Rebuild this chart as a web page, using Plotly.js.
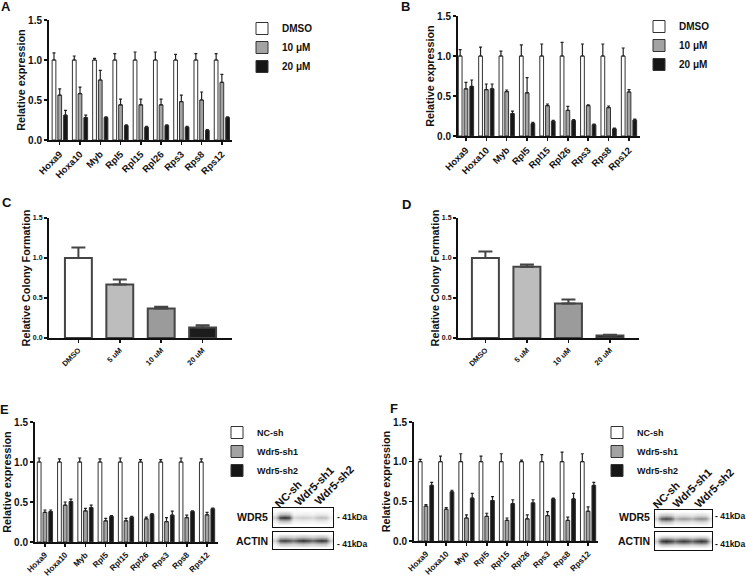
<!DOCTYPE html>
<html><head><meta charset="utf-8">
<script src="https://cdn.plot.ly/plotly-3.0.1.min.js"></script>
<style>html,body{margin:0;padding:0;background:#fff}#chart{width:746px;height:578px}</style>
</head><body><div id="chart"></div>
<script>
// ---------- data ----------
const genes = ['Hoxa9','Hoxa10','Myb','Rpl5','Rpl15','Rpl26','Rps3','Rps8','Rps12'];
const drugGroups = ['DMSO','10 μM','20 μM'];
const shGroups = ['NC-sh','Wdr5-sh1','Wdr5-sh2'];
const colonyCats = ['DMSO','5 uM','10 uM','20 uM'];
const yTicks = [0, 0.5, 1.0, 1.5];

// Panel A
const A_dmso = [1,1,1,1,1,1,1,1,1];
const A_dmsoErr = [0.09,0.05,0.02,0.08,0.10,0.10,0.07,0.08,0.08];
const A_10 = [0.56,0.58,0.75,0.44,0.44,0.44,0.48,0.50,0.72];
const A_10Err = [0.08,0.08,0.12,0.07,0.07,0.07,0.08,0.10,0.10];
const A_20 = [0.31,0.28,0.28,0.18,0.16,0.18,0.16,0.12,0.28];
const A_20Err = [0.06,0.03,0.01,0.01,0.01,0.01,0.01,0.01,0.01];
// Panel B
const B_dmso = [1,1,1,1,1,1,1,1,1];
const B_dmsoErr = [0.08,0.11,0.06,0.14,0.15,0.17,0.15,0.15,0.10];
const B_10 = [0.59,0.58,0.555,0.54,0.38,0.32,0.38,0.355,0.55];
const B_10Err = [0.08,0.07,0.02,0.19,0.02,0.05,0.01,0.02,0.03];
const B_20 = [0.62,0.59,0.28,0.155,0.185,0.195,0.14,0.09,0.20];
const B_20Err = [0.08,0.06,0.03,0.015,0.01,0.01,0.01,0.01,0.01];
// Panel C / D
const C_vals = [1.0,0.67,0.37,0.13];
const C_err = [0.13,0.06,0.02,0.03];
const D_vals = [1.0,0.89,0.43,0.03];
const D_err = [0.08,0.03,0.05,0.01];
const colonyColors = ['#ffffff','#bdbdbd','#9b9b9b','#1c1c1c'];
// Panel E
const E_nc = [1,1,1,1,1,1,1,1,1];
const E_ncErr = [0.05,0.04,0.05,0.04,0.05,0.03,0.03,0.05,0.04];
const E_sh1 = [0.37,0.46,0.39,0.265,0.265,0.29,0.255,0.305,0.34];
const E_sh1Err = [0.03,0.04,0.03,0.03,0.03,0.02,0.05,0.03,0.03];
const E_sh2 = [0.38,0.505,0.43,0.32,0.31,0.345,0.335,0.38,0.415];
const E_sh2Err = [0.02,0.03,0.03,0.01,0.01,0.01,0.05,0.01,0.01];
// Panel F
const F_nc = [1,1,1,1,1,1,1,1,1];
const F_ncErr = [0.03,0.07,0.10,0.07,0.10,0.02,0.09,0.12,0.10];
const F_sh1 = [0.44,0.40,0.29,0.31,0.26,0.28,0.32,0.26,0.375];
const F_sh1Err = [0.02,0.02,0.04,0.04,0.03,0.05,0.05,0.04,0.055];
const F_sh2 = [0.70,0.62,0.54,0.51,0.47,0.48,0.53,0.53,0.70];
const F_sh2Err = [0.04,0.02,0.06,0.05,0.05,0.04,0.01,0.07,0.04];
// Western blot band intensities (lanes NC-sh, Wdr5-sh1, Wdr5-sh2)
const E_wdr5Band = [0.88,0.22,0.28];
const E_actinBand = [0.82,0.88,0.86];
const F_wdr5Band = [0.78,0.42,0.48];
const F_actinBand = [0.86,0.80,0.82];
const blotLanes = ['NC-sh','Wdr5-sh1','Wdr5-sh2'];
const markerLabel = '41kDa';

// ---------- helpers ----------
const W = 746, H = 578;
const FONT = 'Liberation Sans, Arial, sans-serif';
const px = v => v / W;
const py = v => 1 - v / H;
const groupColors = ['#ffffff','#a3a3a3','#161616'];

function barTrace(name, y, err, color, xa, ya, leg) {
  return {type:'bar', x: genes, y: y, name: name, xaxis: xa, yaxis: ya, legend: leg,
    marker:{color: color, line:{color:'#333', width:1}},
    error_y:{type:'data', symmetric:false, array: err, arrayminus: err.map(()=>0),
      color:'#222', thickness:1.2, width:1.5},
    hoverinfo:'skip'};
}
function colonyTrace(vals, err, xa, ya) {
  return {type:'bar', x: colonyCats, y: vals, xaxis: xa, yaxis: ya, width: 0.65, showlegend:false,
    marker:{color: colonyColors, line:{color:'#444', width:2}},
    error_y:{type:'data', symmetric:false, array: err, arrayminus: err.map(()=>0),
      color:'#444', thickness:2, width:7}, hoverinfo:'skip'};
}
function blotZ(lanes) {
  const row = [];
  row.push(lanes[0]*0.25);
  for (let i=0;i<lanes.length;i++){
    row.push(lanes[i]*0.9, lanes[i], lanes[i]*0.9);
    if (i<lanes.length-1) row.push(Math.min(lanes[i],lanes[i+1])*0.75);
  }
  row.push(lanes[lanes.length-1]*0.25);
  const prof = [0, 0.3, 1, 0.3, 0];
  return prof.map(p => row.map(v => v*p));
}
function blotTrace(lanes, xa, ya) {
  return {type:'heatmap', z: blotZ(lanes), xaxis: xa, yaxis: ya, zmin:0, zmax:1, zsmooth:'best',
    colorscale:[[0,'#ffffff'],[1,'#0a0a0a']], showscale:false, hoverinfo:'skip'};
}
function yAxis(domain, anchor, tickSize, titleText, titleSize) {
  return {domain: domain, anchor: anchor, range:[0,1.5], tickvals: yTicks, tickformat:'.1f',
    showline:true, linewidth:2, linecolor:'#111', ticks:'outside', ticklen:3, tickwidth:1.5, tickcolor:'#111',
    showgrid:false, zeroline:false, fixedrange:true,
    tickfont:{family:FONT, size:tickSize, color:'#111', weight:'bold'},
    title:{text:titleText, font:{family:FONT, size:titleSize, color:'#111', weight:'bold'}, standoff:0}};
}
function xAxis(domain, anchor, range, tickSize) {
  return {domain: domain, anchor: anchor, range: range, type:'category',
    showline:true, linewidth:2, linecolor:'#111', ticks:'outside', ticklen:3, tickwidth:1.5, tickcolor:'#111',
    showgrid:false, zeroline:false, tickangle:-45, fixedrange:true,
    tickfont:{family:FONT, size:tickSize, color:'#111', weight:'bold'}};
}
function blotAxes(xd, yd, anchorX, anchorY) {
  return [{domain:xd, anchor:anchorY, range:[-0.5,12.5], showline:true, mirror:true, linewidth:1.3, linecolor:'#111',
      showticklabels:false, ticks:'', showgrid:false, zeroline:false, fixedrange:true},
    {domain:yd, anchor:anchorX, range:[-0.5,4.5], showline:true, mirror:true, linewidth:1.3, linecolor:'#111',
      showticklabels:false, ticks:'', showgrid:false, zeroline:false, fixedrange:true}];
}
function legendBox(x, yTop, size) {
  return {x: x, y: yTop, xanchor:'left', yanchor:'top', bgcolor:'rgba(0,0,0,0)', borderwidth:0,
    font:{family:FONT, size:size, color:'#111', weight:'bold'}, tracegroupgap:0, itemclick:false, itemdoubleclick:false};
}

// ---------- traces ----------
const traces = [
  barTrace(drugGroups[0], A_dmso, A_dmsoErr, groupColors[0], 'x', 'y', 'legend'),
  barTrace(drugGroups[1], A_10, A_10Err, groupColors[1], 'x', 'y', 'legend'),
  barTrace(drugGroups[2], A_20, A_20Err, groupColors[2], 'x', 'y', 'legend'),
  barTrace(drugGroups[0], B_dmso, B_dmsoErr, groupColors[0], 'x2', 'y2', 'legend2'),
  barTrace(drugGroups[1], B_10, B_10Err, groupColors[1], 'x2', 'y2', 'legend2'),
  barTrace(drugGroups[2], B_20, B_20Err, groupColors[2], 'x2', 'y2', 'legend2'),
  colonyTrace(C_vals, C_err, 'x3', 'y3'),
  colonyTrace(D_vals, D_err, 'x4', 'y4'),
  barTrace(shGroups[0], E_nc, E_ncErr, groupColors[0], 'x5', 'y5', 'legend3'),
  barTrace(shGroups[1], E_sh1, E_sh1Err, groupColors[1], 'x5', 'y5', 'legend3'),
  barTrace(shGroups[2], E_sh2, E_sh2Err, groupColors[2], 'x5', 'y5', 'legend3'),
  barTrace(shGroups[0], F_nc, F_ncErr, groupColors[0], 'x6', 'y6', 'legend4'),
  barTrace(shGroups[1], F_sh1, F_sh1Err, groupColors[1], 'x6', 'y6', 'legend4'),
  barTrace(shGroups[2], F_sh2, F_sh2Err, groupColors[2], 'x6', 'y6', 'legend4'),
  blotTrace(E_wdr5Band, 'x7', 'y7'),
  blotTrace(E_actinBand, 'x8', 'y8'),
  blotTrace(F_wdr5Band, 'x9', 'y9'),
  blotTrace(F_actinBand, 'x10', 'y10')
];

// ---------- layout ----------
const [bx7, by7] = blotAxes([px(273), px(333)], [py(527), py(508)], 'x7', 'y7');
const [bx8, by8] = blotAxes([px(273), px(333)], [py(549), py(532)], 'x8', 'y8');
const [bx9, by9] = blotAxes([px(655), px(712)], [py(527), py(510)], 'x9', 'y9');
const [bx10, by10] = blotAxes([px(655), px(712)], [py(550), py(532)], 'x10', 'y10');

const layout = {
  width: W, height: H, margin:{l:0, r:0, t:0, b:0}, paper_bgcolor:'#fff', plot_bgcolor:'#fff',
  barmode:'group', bargap:0.15, bargroupgap:0.35,
  font:{family:FONT, color:'#111'},
  xaxis: xAxis([px(49), px(232)], 'y', [-0.53, 8.5], 9.5),
  yaxis: yAxis([py(140), py(20)], 'x', 10, 'Relative expression', 10.8),
  xaxis2: xAxis([px(458), px(640)], 'y2', [-0.39, 8.54], 9.5),
  yaxis2: yAxis([py(136), py(16)], 'x2', 10, 'Relative expression', 10.8),
  xaxis3: xAxis([px(49), px(232)], 'y3', [-0.71, 3.71], 7.5),
  yaxis3: yAxis([py(338), py(218)], 'x3', 7, 'Relative Colony Formation', 10.8),
  xaxis4: xAxis([px(458), px(639)], 'y4', [-0.66, 3.70], 7.5),
  yaxis4: yAxis([py(338), py(218)], 'x4', 7, 'Relative Colony Formation', 10.8),
  xaxis5: xAxis([px(35), px(218)], 'y5', [-0.49, 8.54], 8.2),
  yaxis5: yAxis([py(542), py(422)], 'x5', 10, 'Relative expression', 10.8),
  xaxis6: xAxis([px(414), px(598)], 'y6', [-0.59, 8.49], 8.2),
  yaxis6: yAxis([py(541), py(422)], 'x6', 10, 'Relative expression', 10.8),
  xaxis7: bx7, yaxis7: by7, xaxis8: bx8, yaxis8: by8,
  xaxis9: bx9, yaxis9: by9, xaxis10: bx10, yaxis10: by10,
  legend: legendBox(px(242), py(14), 10),
  legend2: legendBox(px(639), py(12), 10),
  legend3: legendBox(px(217), py(418), 9),
  legend4: legendBox(px(597), py(418), 9),
  annotations: []
};

const ann = layout.annotations;
function label(text, x, y, size, opts) {
  ann.push(Object.assign({text: text, x: px(x), y: py(y), xref:'paper', yref:'paper', showarrow:false,
    xanchor:'center', yanchor:'middle', font:{family:FONT, size:size, color:'#111', weight:'bold'}}, opts||{}));
}
// panel letters
label('A', 6, 7, 13); label('B', 405, 7, 13); label('C', 7, 203, 13);
label('D', 406, 204, 13); label('E', 4, 409, 13); label('F', 394, 408, 13);
// blot labels
label('WDR5', 270, 517, 10.5, {xanchor:'right'});
label('ACTIN', 270, 541, 10.5, {xanchor:'right'});
label('WDR5', 652, 517, 10.5, {xanchor:'right'});
label('ACTIN', 652, 541, 10.5, {xanchor:'right'});
label('- ' + markerLabel, 335, 517, 8.5, {xanchor:'left'});
label('- ' + markerLabel, 335, 544, 8.5, {xanchor:'left'});
label('- ' + markerLabel, 713, 516, 8.5, {xanchor:'left'});
label('- ' + markerLabel, 713, 544, 8.5, {xanchor:'left'});
const laneCentersE = [[288,494],[314,486],[334,485]];
const laneCentersF = [[666,495],[692,488],[714,488]];
blotLanes.forEach((t,i) => {
  label(t, laneCentersE[i][0], laneCentersE[i][1], 11, {textangle:-45});
  label(t, laneCentersF[i][0], laneCentersF[i][1], 11, {textangle:-45});
});

Plotly.newPlot('chart', traces, layout, {staticPlot:true, displayModeBar:false});
</script>
</body></html>
